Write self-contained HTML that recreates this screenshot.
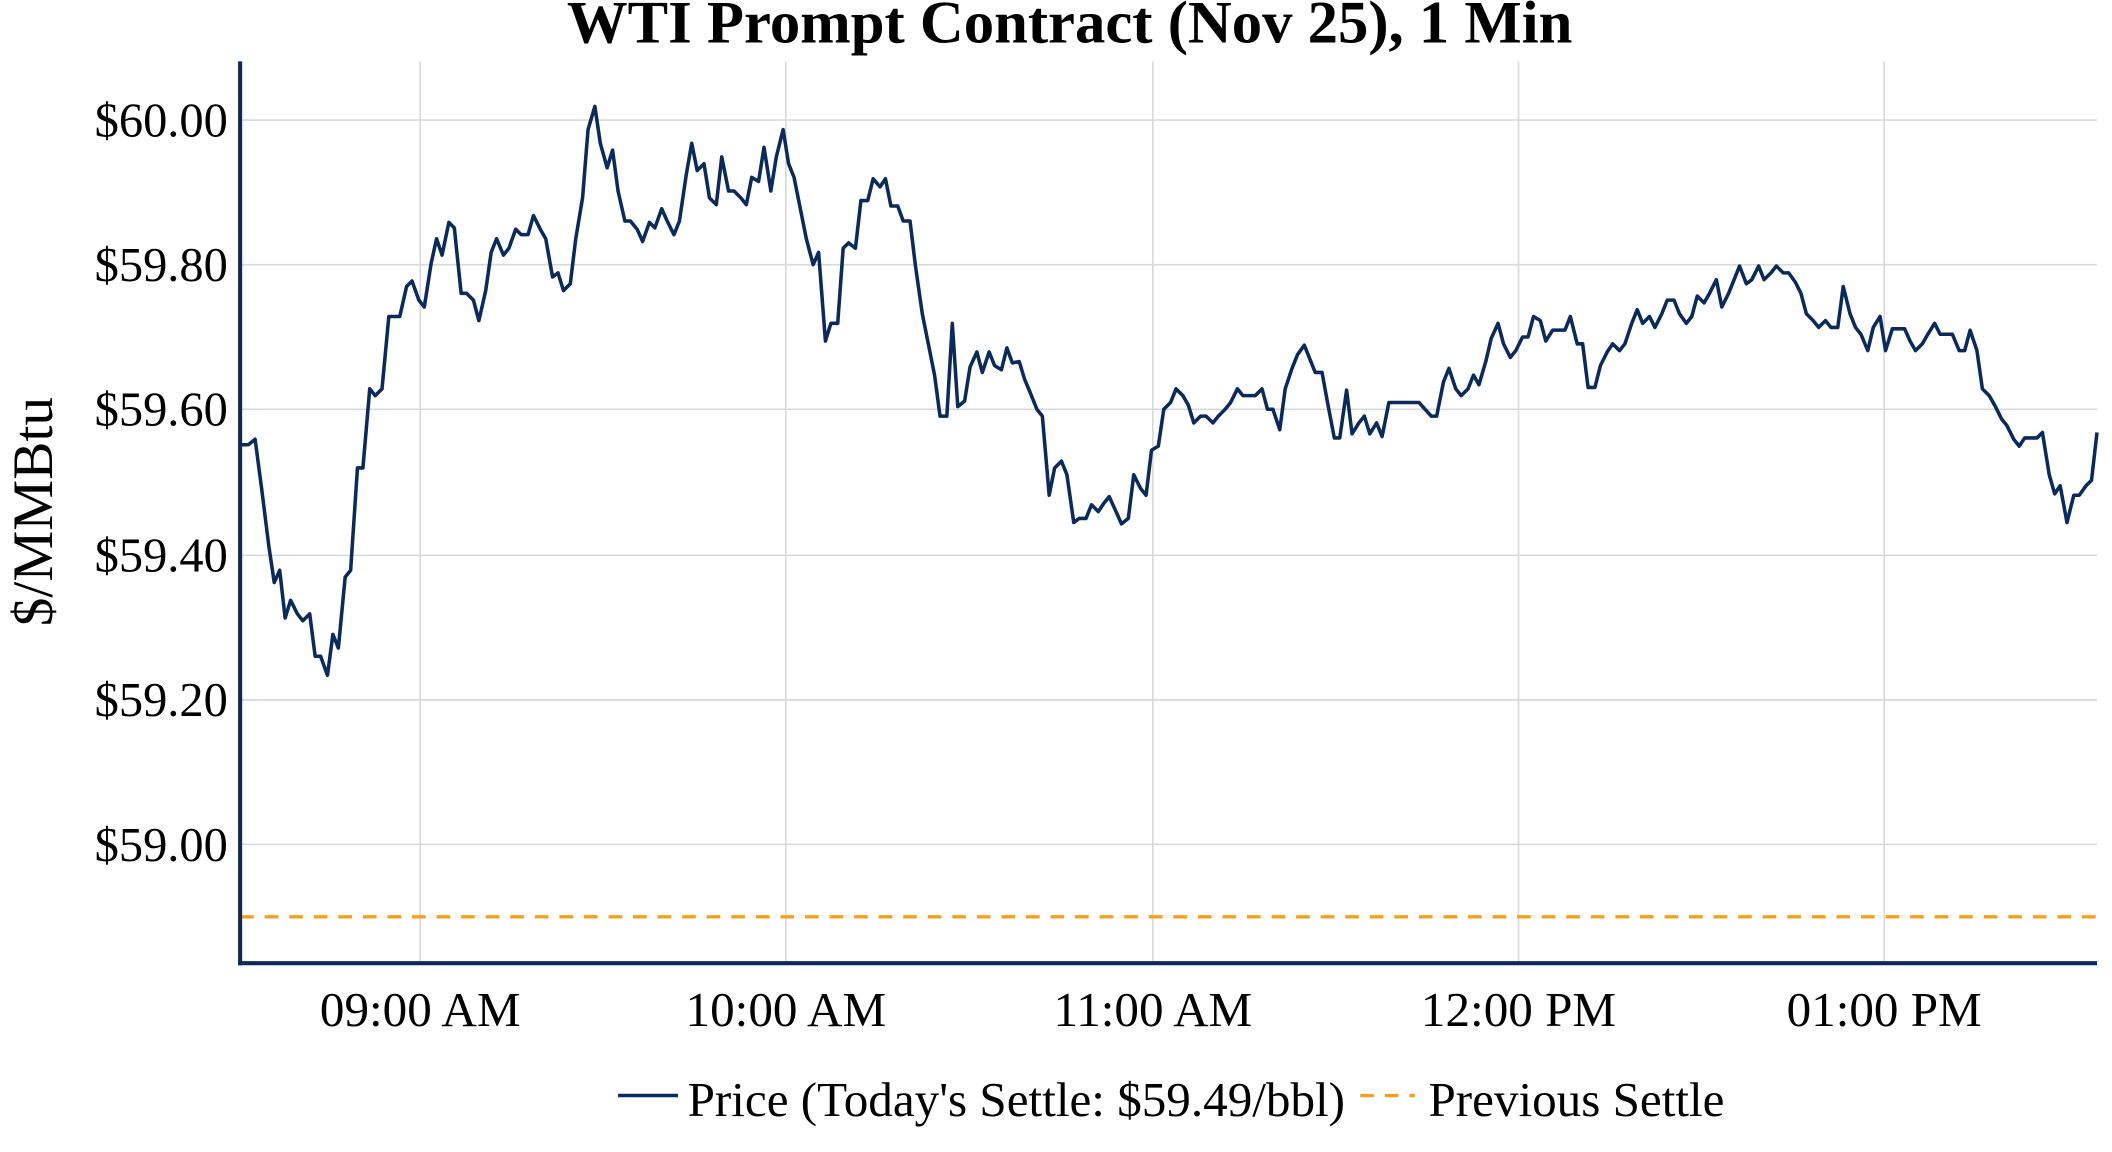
<!DOCTYPE html>
<html><head><meta charset="utf-8"><style>
html,body{margin:0;padding:0;background:#fff;}
svg{display:block;}
text{font-family:"Liberation Serif",serif;fill:#000;}
</style></head><body>
<svg width="2112" height="1152" viewBox="0 0 1548 844.4" preserveAspectRatio="none" xmlns="http://www.w3.org/2000/svg">
<rect width="1548" height="845" fill="#fff"/>
<text x="784" y="31" font-size="44.5" font-weight="bold" text-anchor="middle">WTI Prompt Contract (Nov 25), 1 Min</text>
<g stroke="#d9d9d9" stroke-width="1.2">
<line x1="176" x2="1537" y1="88" y2="88"/><line x1="176" x2="1537" y1="194" y2="194"/><line x1="176" x2="1537" y1="300" y2="300"/><line x1="176" x2="1537" y1="407" y2="407"/><line x1="176" x2="1537" y1="513" y2="513"/><line x1="176" x2="1537" y1="619" y2="619"/>
<line x1="308" x2="308" y1="45" y2="706"/><line x1="576" x2="576" y1="45" y2="706"/><line x1="845" x2="845" y1="45" y2="706"/><line x1="1113" x2="1113" y1="45" y2="706"/><line x1="1381" x2="1381" y1="45" y2="706"/>
</g>
<g font-size="35.5" text-anchor="end">
<text x="167" y="100">$60.00</text><text x="167" y="206">$59.80</text><text x="167" y="312">$59.60</text><text x="167" y="419">$59.40</text><text x="167" y="525">$59.20</text><text x="167" y="631">$59.00</text>
</g>
<g font-size="36" text-anchor="middle">
<text x="308" y="752">09:00 AM</text><text x="576" y="752">10:00 AM</text><text x="845" y="752">11:00 AM</text><text x="1113" y="752">12:00 PM</text><text x="1381" y="752">01:00 PM</text>
</g>
<text transform="translate(38,375) rotate(-90)" font-size="42" text-anchor="middle">$/MMBtu</text>
<line x1="176" x2="1537" y1="672" y2="672" stroke="#f5a01a" stroke-width="2.5" stroke-dasharray="10,8"/>
<polyline fill="none" stroke="#0a2a5c" stroke-width="2.6" stroke-linejoin="round" points="176,326 182,326 187,322 192,360 197,400 201,427 205,418 209,453 213,440 218,450 222,455 227,450 231,481 235,481 240,495 244,465 248,475 253,423 257,418 262,343 266,343 271,285 275,290 280,285 285,232 293,232 298,210 302,206 307,220 311,225 316,193 320,175 324,187 329,163 333,167 338,215 342,215 347,220 351,235 356,213 360,185 364,175 369,187 373,182 378,168 382,172 387,172 391,158 396,168 400,175 405,203 409,200 413,213 418,208 422,175 427,145 431,95 436,78 440,105 445,123 449,110 453,140 458,162 462,162 467,168 471,177 476,163 480,167 485,153 489,162 494,172 498,162 503,128 507,105 511,125 516,120 520,145 525,150 529,115 534,140 538,140 543,145 547,150 551,130 556,133 560,108 565,140 569,115 574,95 578,120 582,130 587,155 591,175 596,194 600,185 605,250 609,237 614,237 618,182 622,178 627,182 631,147 636,147 640,131 645,137 649,131 653,151 658,151 662,162 667,162 671,195 676,230 680,250 685,275 689,305 694,305 698,237 702,298 707,294 711,269 716,258 720,273 725,258 729,268 734,271 738,255 742,266 747,265 751,278 756,290 760,300 764,305 769,363 773,343 778,338 782,348 787,383 791,380 796,380 800,370 805,375 809,369 813,364 818,375 822,384 827,380 831,348 836,358 840,363 844,330 849,327 853,300 858,295 862,285 867,290 871,297 875,310 880,305 884,305 889,310 893,305 898,300 902,295 907,285 911,290 916,290 920,290 925,285 929,300 933,300 938,315 942,285 947,270 951,260 956,253 960,263 964,273 969,273 973,295 978,321 982,321 987,286 991,318 996,310 1000,305 1004,318 1009,310 1013,320 1018,295 1022,295 1040,295 1049,305 1053,305 1058,280 1062,270 1067,285 1071,290 1076,285 1080,275 1084,282 1089,265 1093,248 1098,237 1102,252 1107,262 1111,257 1116,247 1120,247 1124,232 1129,235 1133,250 1138,242 1142,242 1147,242 1151,232 1156,252 1160,252 1164,284 1169,284 1173,268 1178,258 1182,252 1187,257 1191,252 1196,237 1200,227 1204,237 1209,232 1213,240 1218,230 1222,220 1227,220 1231,230 1236,237 1240,232 1244,217 1249,222 1253,215 1258,205 1262,225 1267,215 1271,205 1275,195 1280,208 1284,205 1289,195 1293,205 1298,200 1302,195 1307,200 1311,200 1316,207 1320,215 1324,230 1329,235 1333,240 1338,235 1342,240 1347,240 1351,210 1356,230 1360,240 1364,245 1369,257 1373,240 1378,232 1382,257 1387,241 1396,241 1400,250 1404,257 1409,252 1413,245 1418,237 1422,245 1431,245 1436,257 1440,257 1444,242 1449,257 1453,285 1458,290 1462,297 1467,307 1471,312 1476,322 1480,327 1484,321 1493,321 1497,317 1502,348 1506,362 1510,356 1515,383 1520,363 1524,363 1529,356 1533,352 1537,317"/>
<line x1="176" x2="176" y1="45" y2="707.5" stroke="#0b2a55" stroke-width="3"/>
<line x1="174.5" x2="1537" y1="706" y2="706" stroke="#0b2a55" stroke-width="3"/>
<line x1="453" x2="497" y1="803" y2="803" stroke="#0a2a5c" stroke-width="2.6"/>
<text x="504" y="818" font-size="36">Price (Today's Settle: $59.49/bbl)</text>
<line x1="997" x2="1037" y1="803" y2="803" stroke="#f5a01a" stroke-width="2.5" stroke-dasharray="10,8"/>
<text x="1047" y="818" font-size="36">Previous Settle</text>
</svg>
</body></html>
